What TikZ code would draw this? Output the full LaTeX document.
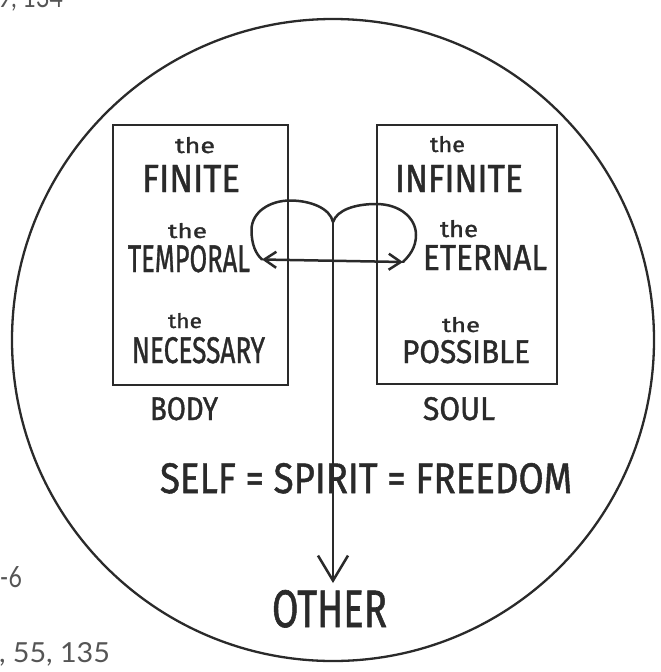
\documentclass[tikz,border=0pt]{standalone}
\usepackage{fontspec}
\usepackage{graphicx}
\setmainfont{Fira Sans}
\newfontfamily\handfont[FakeBold=1.2]{Fira Sans}
\newfontfamily\idxfont{Lato}
\usetikzlibrary{arrows.meta}
\definecolor{ink}{HTML}{2A2A2A}
\definecolor{idxgray}{HTML}{555555}
\newcommand{\fitbox}[3]{\resizebox{#1pt}{#2pt}{#3}}
\tikzset{
  lbl/.style={anchor=base west, inner sep=0pt, outer sep=0pt, text=ink, font=\handfont},
  idx/.style={anchor=base west, inner sep=0pt, outer sep=0pt, text=idxgray, font=\idxfont},
  panel/.style={draw=ink, line width=2.8pt, rectangle, inner sep=0pt},
  wire/.style={draw=ink, line width=2.5pt, line cap=round, line join=round},
  bigtip/.style={-{Straight Barb[length=25pt,width=30pt,line width=2.5pt]}},
  smalltips/.style={{Straight Barb[length=12pt,width=16pt,line width=2.5pt]}-{Straight Barb[length=12pt,width=16pt,line width=2.5pt]}}
}
\begin{document}
\begin{tikzpicture}[x=1pt,y=-1pt]
\useasboundingbox (0,0) rectangle (661,672);
\clip (0,0) rectangle (661,672);
\fill[white] (0,0) rectangle (661,672);

% index fragments at the page edge
\node[idx] (idxa) at (-2,7) {\fitbox{65}{20}{9, 134}};
\node[idx] (idxb) at (0,587) {\fitbox{22}{21}{-6}};
\node[idx] (idxc) at (-1,662) {\fitbox{111}{20}{, 55, 135}};

% big circle
\draw[ink, line width=2.3pt] (333,340) circle[radius=321];

% boxes
\node[panel, minimum width=175pt, minimum height=260pt] (body) at (200.5,255) {};
\node[panel, minimum width=180pt, minimum height=259pt] (soul) at (467,254.5) {};

% left box text
\node[lbl] (t1) at (175,153) {\fitbox{40}{16}{the}};
\node[lbl] (finite) at (142,192) {\fitbox{98}{27}{FINITE}};
\node[lbl] (t2) at (168,238) {\fitbox{39}{15}{the}};
\node[lbl] (temporal) at (128,272) {\fitbox{122}{27}{TEMPORAL}};
\node[lbl] (t3) at (168,328) {\fitbox{34}{15}{the}};
\node[lbl] (necessary) at (132,363) {\fitbox{133}{26}{NECESSARY}};

% right box text
\node[lbl] (t4) at (430,152) {\fitbox{35}{16}{the}};
\node[lbl] (infinite) at (395,192) {\fitbox{128}{27}{INFINITE}};
\node[lbl] (t5) at (440,237) {\fitbox{38}{17}{the}};
\node[lbl] (eternal) at (423,270) {\fitbox{124}{25}{ETERNAL}};
\node[lbl] (t6) at (442,332) {\fitbox{38}{15}{the}};
\node[lbl] (possible) at (402,363) {\fitbox{128}{23}{POSSIBLE}};

% labels under boxes
\node[lbl] (bodylbl) at (150,420) {\fitbox{68}{23}{BODY}};
\node[lbl] (soullbl) at (423,420) {\fitbox{72}{23}{SOUL}};

% equation
\node[lbl] (self) at (160,493) {\fitbox{412}{30}{SELF = SPIRIT = FREEDOM}};

% other
\node[lbl] (other) at (272,627) {\fitbox{115}{37}{OTHER}};

% connectors
\coordinate (J) at (333,222);
\coordinate (L) at (262,259.5);
\coordinate (R) at (403,262);
\coordinate (tip) at (333,583);

\draw[wire] (J) .. controls (330,208) and (310,200.5) .. (290,200.5)
              .. controls (270,200.5) and (251.5,212) .. (251.5,230)
              .. controls (251.5,245) and (256,254) .. (L);
\draw[wire] (J) .. controls (337,210) and (355,204) .. (376,204)
              .. controls (400,204) and (416,218) .. (416,235)
              .. controls (416,248) and (409,256) .. (R);
\draw[wire, smalltips] (L) -- (R);
\draw[wire, bigtip] (J) -- (tip);
\end{tikzpicture}
\end{document}
